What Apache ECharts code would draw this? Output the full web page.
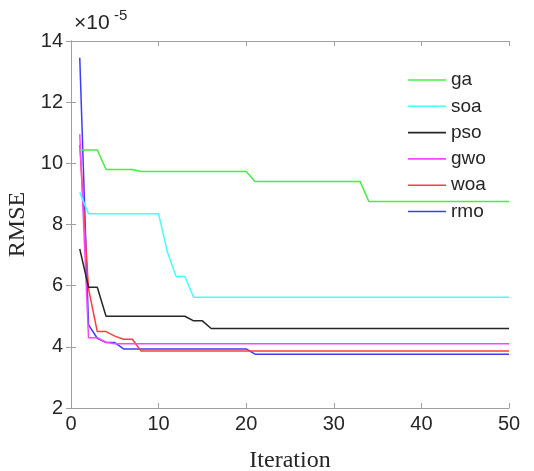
<!DOCTYPE html>
<html>
<head>
<meta charset="utf-8">
<script src="https://cdn.jsdelivr.net/npm/echarts@6/dist/echarts.min.js"></script>
<style>
  html, body { margin: 0; padding: 0; background: #fff; }
  #chart { width: 534px; height: 471px; }
</style>
</head>
<body>
<div id="chart"></div>
<script>
// values in units of 1e-5
var names = ['ga', 'soa', 'pso', 'gwo', 'woa', 'rmo'];
var colors = ['#44ee44', '#44ffff', '#262626', '#ff44ff', '#ff3d3d', '#3d3dff'];
var xTicks = [0, 10, 20, 30, 40, 50];
var yTicks = [2, 4, 6, 8, 10, 12, 14];

var ga = [10.44, 10.44, 10.44, 9.8, 9.8, 9.8, 9.8,
  9.73, 9.73, 9.73, 9.73, 9.73, 9.73, 9.73, 9.73, 9.73, 9.73, 9.73, 9.73, 9.73,
  9.41, 9.41, 9.41, 9.41, 9.41, 9.41, 9.41, 9.41, 9.41, 9.41, 9.41, 9.41, 9.41,
  8.75, 8.75, 8.75, 8.75, 8.75, 8.75, 8.75, 8.75, 8.75, 8.75, 8.75, 8.75, 8.75, 8.75, 8.75, 8.75, 8.75];
var soa = [9.05, 8.35, 8.35, 8.35, 8.35, 8.35, 8.35, 8.35, 8.35, 8.35,
  7.1, 6.3, 6.3,
  5.62, 5.62, 5.62, 5.62, 5.62, 5.62, 5.62, 5.62, 5.62, 5.62, 5.62, 5.62, 5.62, 5.62, 5.62, 5.62, 5.62,
  5.62, 5.62, 5.62, 5.62, 5.62, 5.62, 5.62, 5.62, 5.62, 5.62, 5.62, 5.62, 5.62, 5.62, 5.62, 5.62, 5.62, 5.62, 5.62, 5.62];
var pso = [7.2, 5.95, 5.95,
  5.0, 5.0, 5.0, 5.0, 5.0, 5.0, 5.0, 5.0, 5.0, 5.0,
  4.85, 4.85,
  4.6, 4.6, 4.6, 4.6, 4.6, 4.6, 4.6, 4.6, 4.6, 4.6, 4.6, 4.6, 4.6, 4.6, 4.6, 4.6, 4.6, 4.6, 4.6, 4.6,
  4.6, 4.6, 4.6, 4.6, 4.6, 4.6, 4.6, 4.6, 4.6, 4.6, 4.6, 4.6, 4.6, 4.6, 4.6];
var gwo = [10.95, 4.3, 4.3, 4.15,
  4.1, 4.1, 4.1, 4.1, 4.1, 4.1, 4.1, 4.1, 4.1, 4.1, 4.1, 4.1, 4.1, 4.1, 4.1, 4.1, 4.1, 4.1, 4.1, 4.1, 4.1, 4.1, 4.1,
  4.1, 4.1, 4.1, 4.1, 4.1, 4.1, 4.1, 4.1, 4.1, 4.1, 4.1, 4.1, 4.1, 4.1, 4.1, 4.1, 4.1, 4.1, 4.1, 4.1, 4.1, 4.1, 4.1];
var woa = [10.6, 5.9, 4.5, 4.5, 4.35, 4.25, 4.25,
  3.86, 3.86, 3.86, 3.86, 3.86, 3.86, 3.86, 3.86, 3.86, 3.86, 3.86, 3.86, 3.86, 3.86, 3.86, 3.86,
  3.86, 3.86, 3.86, 3.86, 3.86, 3.86, 3.86, 3.86, 3.86, 3.86, 3.86, 3.86, 3.86, 3.86, 3.86, 3.86,
  3.86, 3.86, 3.86, 3.86, 3.86, 3.86, 3.86, 3.86, 3.86, 3.86, 3.86];
var rmo = [13.45, 4.72, 4.28, 4.14, 4.14,
  3.93, 3.93, 3.93, 3.93, 3.93, 3.93, 3.93, 3.93, 3.93, 3.93, 3.93, 3.93, 3.93, 3.93, 3.93,
  3.76, 3.76, 3.76, 3.76, 3.76, 3.76, 3.76, 3.76, 3.76, 3.76, 3.76, 3.76, 3.76, 3.76, 3.76,
  3.76, 3.76, 3.76, 3.76, 3.76, 3.76, 3.76, 3.76, 3.76, 3.76, 3.76, 3.76, 3.76, 3.76, 3.76];

var allData = [ga, soa, pso, gwo, woa, rmo];

var chart = echarts.init(document.getElementById('chart'));
var axisGray = '#a0a0a0';
var textColor = '#262626';

function toPairs(arr) {
  return arr.map(function (v, i) { return [i + 1, v]; });
}

var series = names.map(function (n, k) {
  return {
    name: n,
    type: 'line',
    data: toPairs(allData[k]),
    symbol: 'none',
    lineStyle: { color: colors[k], width: 1.5 },
    itemStyle: { color: colors[k] },
    z: 10 - k
  };
});

var commonX = {
  type: 'value', min: xTicks[0], max: xTicks[xTicks.length - 1], interval: 10,
  axisLine: { lineStyle: { color: axisGray } },
  axisTick: { inside: true, length: 5, lineStyle: { color: axisGray } },
  splitLine: { show: false }
};
var commonY = {
  type: 'value', min: yTicks[0], max: yTicks[yTicks.length - 1], interval: 2,
  axisLine: { show: true, lineStyle: { color: axisGray } },
  axisTick: { show: true, inside: true, length: 5, lineStyle: { color: axisGray } },
  splitLine: { show: false }
};

var option = {
  animation: false,
  backgroundColor: '#fff',
  grid: { left: 71, right: 25, top: 41, bottom: 63, outerBoundsMode: 'none', containLabel: false },
  legend: {
    orient: 'vertical',
    left: 408,
    top: 70.5,
    padding: 0,
    icon: 'rect',
    itemWidth: 38,
    itemHeight: 1.6,
    itemGap: 7.3,
    textStyle: { fontFamily: 'Liberation Sans', fontSize: 19, color: textColor },
    data: names
  },
  xAxis: [
    Object.assign({}, commonX, {
      position: 'bottom',
      axisLabel: { fontFamily: 'Liberation Sans', fontSize: 20, color: textColor, margin: 6 },
      name: 'Iteration',
      nameLocation: 'middle',
      nameGap: 41,
      nameTextStyle: { fontFamily: 'Liberation Serif', fontSize: 24, color: textColor }
    }),
    Object.assign({}, commonX, { position: 'top', axisLabel: { show: false } })
  ],
  yAxis: [
    Object.assign({}, commonY, {
      position: 'left',
      axisLabel: { fontFamily: 'Liberation Sans', fontSize: 20, color: textColor, margin: 8, padding: [6, 0, 0, 0] },
      name: 'RMSE',
      nameLocation: 'middle',
      nameGap: 35,
      nameTextStyle: { fontFamily: 'Liberation Serif', fontSize: 24, color: textColor }
    }),
    Object.assign({}, commonY, { position: 'right', axisLabel: { show: false } })
  ],
  graphic: [
    { type: 'text', left: 74, top: 13, style: { text: '×10', font: '21px "Liberation Sans"', fill: textColor } },
    { type: 'text', left: 114, top: 8, style: { text: '-5', font: '15px "Liberation Sans"', fill: textColor } }
  ],
  series: series
};

chart.setOption(option);
</script>
</body>
</html>
